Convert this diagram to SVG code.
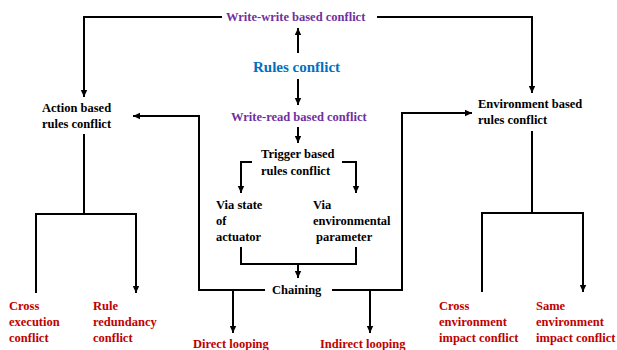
<svg xmlns="http://www.w3.org/2000/svg" width="617" height="350" viewBox="0 0 617 350">
<defs>
<marker id="ah" markerUnits="userSpaceOnUse" markerWidth="8" markerHeight="8" viewBox="0 0 8 8" refX="7" refY="4" orient="auto">
<path d="M0,0.8 L7,4 L0,7.2 Z" fill="#000"/>
</marker>
<style>
text{font-family:'Liberation Serif','Times New Roman',serif;font-weight:bold;font-size:12.5px;fill:#000}
.p{fill:#7030A0}
.b{fill:#0070C0;font-size:15px}
.r{fill:#C00000}
.c path{fill:none;stroke:#000;stroke-width:2}
.a{marker-end:url(#ah)}
</style>
</defs>
<g class="c" id="connectors">
<path class="a" d="M222,17 H84 V97"/>
<path class="a" d="M377,17 H532 V93"/>
<path class="a" d="M298,53 V28"/>
<path class="a" d="M298,79 V105"/>
<path class="a" d="M298,127 V143"/>
<path class="a" d="M252,162 H241 V193"/>
<path class="a" d="M342,162 H356 V193"/>
<path d="M241,247 V264 H356 V247"/>
<path class="a" d="M298,264 V278"/>
<path class="a" d="M265,290 H199 V116 H133"/>
<path class="a" d="M332,290 H402 V113 H472"/>
<path class="a" d="M233,290 V333"/>
<path class="a" d="M370,290 V333"/>
<path d="M84,134 V214"/>
<path class="a" d="M36,293 V214 H136 V293"/>
<path d="M532,131 V213"/>
<path class="a" d="M482,292 V213 H583 V292"/>
</g>
<g font-family="Liberation Serif, serif">
<g id="n-ww"><text class="p" x="226" y="21">Write-write based conflict</text></g>
<g id="n-rules"><text class="b" x="253" y="72">Rules conflict</text></g>
<g id="n-wr"><text class="p" x="231" y="121">Write-read based conflict</text></g>
<g id="n-trigger"><text x="261" y="158">Trigger based</text><text x="261" y="175">rules conflict</text></g>
<g id="n-action"><text x="42" y="112">Action based</text><text x="42" y="128">rules conflict</text></g>
<g id="n-env"><text x="478" y="108">Environment based</text><text x="478" y="124">rules conflict</text></g>
<g id="n-state"><text x="216" y="209">Via state</text><text x="216" y="225">of</text><text x="216" y="241">actuator</text></g>
<g id="n-envparam"><text x="313" y="209">Via</text><text x="313" y="225">environmental</text><text x="316" y="241">parameter</text></g>
<g id="n-chaining"><text x="272" y="294">Chaining</text></g>
<g id="n-direct"><text class="r" x="193" y="348">Direct looping</text></g>
<g id="n-indirect"><text class="r" x="320" y="348">Indirect looping</text></g>
<g id="n-crossexec"><text class="r" x="9" y="310">Cross</text><text class="r" x="9" y="326">execution</text><text class="r" x="9" y="342">conflict</text></g>
<g id="n-redund"><text class="r" x="93" y="310">Rule</text><text class="r" x="93" y="326">redundancy</text><text class="r" x="93" y="342">conflict</text></g>
<g id="n-crossenv"><text class="r" x="439" y="310">Cross</text><text class="r" x="439" y="326">environment</text><text class="r" x="439" y="342">impact conflict</text></g>
<g id="n-sameenv"><text class="r" x="536" y="310">Same</text><text class="r" x="536" y="326">environment</text><text class="r" x="536" y="342">impact conflict</text></g>
</g>
</svg>
